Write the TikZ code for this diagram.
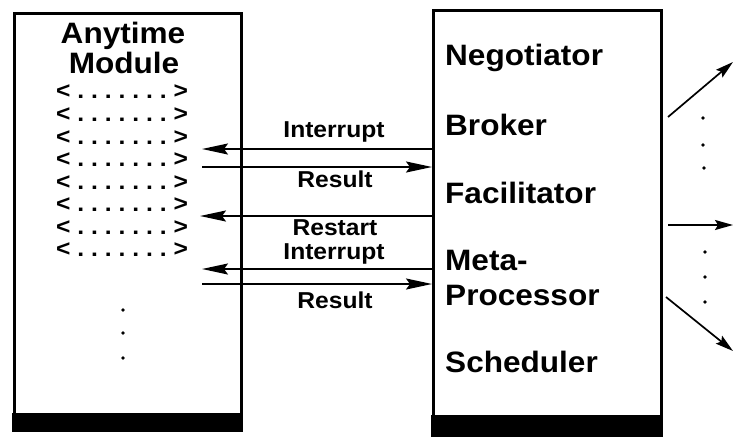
\documentclass[tikz,border=0pt]{standalone}
\usepackage{fontspec}
\setmainfont{Liberation Sans}[FakeStretch=1.07]
\usetikzlibrary{arrows.meta}

\begin{document}
\begin{tikzpicture}[x=1pt,y=-1pt,
  box/.style={draw, line width=2.6pt, inner sep=0pt, anchor=north west},
  big/.style={font=\fontsize{29.5}{30}\selectfont\bfseries, inner sep=0pt},
  lbl/.style={font=\fontsize{23}{24}\selectfont\bfseries, anchor=base, inner sep=0pt},
  row/.style={font=\fontsize{23}{23}\selectfont\bfseries, inner sep=0pt},
  link/.style={line width=1.9pt, -{Stealth[length=26pt,width=11pt,inset=4pt]}},
  fan/.style={line width=1.7pt, -{Stealth[length=18pt,width=10pt,inset=3pt]}},
  dotr/.style={radius=1.8pt}]

\useasboundingbox (0,0) rectangle (734,440);

% heavy base under each box
\fill (12,413) rectangle (243,432);
\fill (431,415) rectangle (663,437);

% the two boxes
\node[box, minimum width=227pt, minimum height=403pt] (amod) at (13,12) {};
\node[box, minimum width=228pt, minimum height=408pt] (ctrl) at (432,9) {};

% left box: title and interface rows
\node[big, anchor=base] (ttl1) at (123,43) {Anytime};
\node[big, anchor=base] (ttl2) at (124,73) {Module};
\foreach \y [count=\i] in {92,115,138,160,183,205,228,250}
  \node[row, anchor=base] (row\i) at (122,\y+6)
    {\makebox[132pt]{<\hfill.\hfill.\hfill.\hfill.\hfill.\hfill.\hfill.\hfill>}};
\foreach \y in {310,333,358}
  \fill (123,\y) circle[dotr];

% right box: roles
\node[big, anchor=base west] (neg) at (445,65)  {Negotiator};
\node[big, anchor=base west] (bro) at (445,135) {Broker};
\node[big, anchor=base west] (fac) at (445,203) {Facilitator};
\node[big, anchor=base west] (met) at (445,270) {Meta-};
\node[big, anchor=base west] (pro) at (445,305) {Processor};
\node[big, anchor=base west] (sch) at (445,372) {Scheduler};

% messages between the boxes
\coordinate (m1) at (202,149);
\coordinate (m2) at (202,167);
\coordinate (m3) at (200,216);
\coordinate (m4) at (202,269);
\coordinate (m5) at (202,284);
\draw[link] (ctrl.west |- m1) -- (m1);
\draw[link] (m2) -- (ctrl.west |- m2);
\draw[link] (ctrl.west |- m3) -- (m3);
\draw[link] (ctrl.west |- m4) -- (m4);
\draw[link] (m5) -- (ctrl.west |- m5);

\node[lbl] (l1) at (334,137) {Interrupt};
\node[lbl] (l2) at (335,187) {Result};
\node[lbl] (l3) at (335,235) {Restart};
\node[lbl] (l4) at (334,259) {Interrupt};
\node[lbl] (l5) at (335,308) {Result};

% outgoing fan on the right
\coordinate (f1a) at (668,117); \coordinate (f1b) at (733,62);
\coordinate (f2a) at (668,225); \coordinate (f2b) at (733,225);
\coordinate (f3a) at (666,297); \coordinate (f3b) at (733,351);
\draw[fan] (f1a) -- (f1b);
\draw[fan] (f2a) -- (f2b);
\draw[fan] (f3a) -- (f3b);
\foreach \p in {(703,118),(703,145),(704,168),(705,252),(705,277),(705,302)}
  \fill \p circle[dotr];
\end{tikzpicture}
\end{document}
